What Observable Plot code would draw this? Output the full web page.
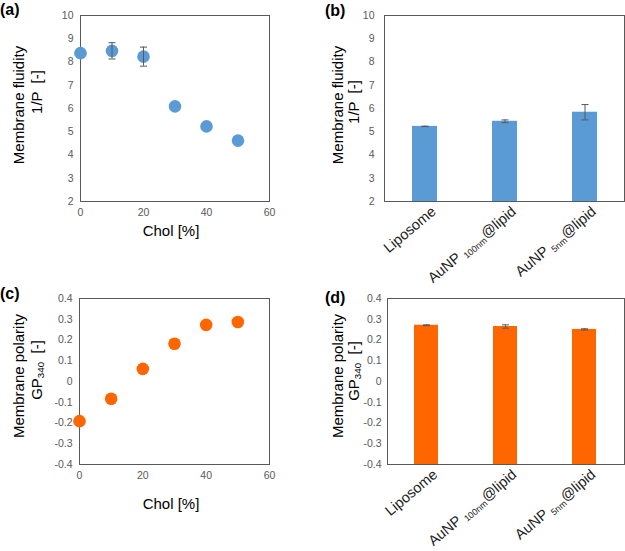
<!DOCTYPE html>
<html>
<head>
<meta charset="utf-8">
<script src="https://cdn.jsdelivr.net/npm/d3@7"></script>
<script src="https://cdn.jsdelivr.net/npm/@observablehq/plot@0.6"></script>
<style>
  html, body { margin: 0; padding: 0; background: #fff; }
  #wrap { position: relative; width: 625px; height: 551px; background: #fff; overflow: hidden;
          font-family: "Liberation Sans", Arial, sans-serif; color: #000; }
  .panel { position: absolute; }
  .lbl { position: absolute; font-weight: bold; font-size: 16px; line-height: 1; }
  .title { position: absolute; font-size: 15px; line-height: 1; white-space: pre; transform: translate(-50%, -50%); }
  .rot { transform: translate(-50%, -50%) rotate(-90deg); }
  sub { font-size: 0.65em; vertical-align: -0.25em; line-height: 0; }
</style>
</head>
<body>
<div id="wrap"></div>
<script>
// ---- data ----
const chol = [0, 10, 20, 30, 40, 50];
const fluidity = [8.38, 8.48, 8.23, 6.09, 5.23, 4.62];
const fluidityErr = [0, 0.35, 0.41, 0, 0, 0];
const polarity = [-0.191, -0.083, 0.061, 0.182, 0.273, 0.287];
const polarityErr = [0, 0, 0, 0, 0, 0];
const categories = ["Liposome", "AuNP100nm@lipid", "AuNP5nm@lipid"];
const barFluidity = [5.23, 5.45, 5.84];
const barFluidityErr = [0.01, 0.06, 0.33];
const barPolarity = [0.271, 0.265, 0.251];
const barPolarityErr = [0.002, 0.008, 0.003];
const cholTicks = [0, 20, 40, 60];
const fluidityTicks = [2, 3, 4, 5, 6, 7, 8, 9, 10];
const polarityTicks = [-0.4, -0.3, -0.2, -0.1, 0, 0.1, 0.2, 0.3, 0.4];

const BLUE = "#5B9BD5", ORANGE = "#FF6600", ERR = "#595959", FRAME = "#595959";
const FONT = '"Liberation Sans", Arial, sans-serif';

const cap = { draw(ctx) { ctx.moveTo(-3.5, 0); ctx.lineTo(3.5, 0); } };

const dataA = chol.map((c, i) => ({ chol: c, value: fluidity[i], err: fluidityErr[i] }));
const dataC = chol.map((c, i) => ({ chol: c, value: polarity[i], err: polarityErr[i] }));
const dataB = categories.map((c, i) => ({ cat: c, value: barFluidity[i], err: barFluidityErr[i] }));
const dataD = categories.map((c, i) => ({ cat: c, value: barPolarity[i], err: barPolarityErr[i] }));

const fmtPol = d => d === 0 ? "0" : d.toFixed(1);

function errMarks(data, xKey) {
  const e = data.filter(d => d.err > 0);
  return [
    Plot.ruleX(e, { x: xKey, y1: d => d.value - d.err, y2: d => d.value + d.err, stroke: ERR, strokeWidth: 1 }),
    Plot.dot(e, { x: xKey, y: d => d.value + d.err, symbol: cap, stroke: ERR, fill: "none", strokeWidth: 1 }),
    Plot.dot(e, { x: xKey, y: d => d.value - d.err, symbol: cap, stroke: ERR, fill: "none", strokeWidth: 1 })
  ];
}

function scatter(data, yDomain, yTicks, yFmt, color, opts) {
  return Plot.plot({
    width: opts.width, height: opts.height,
    marginLeft: opts.ml, marginRight: opts.mr, marginTop: opts.mt, marginBottom: opts.mb,
    style: { background: "transparent", fontFamily: FONT, fontSize: "10.5px", color: "#595959", overflow: "visible" },
    x: { domain: [cholTicks[0], cholTicks[cholTicks.length - 1]], ticks: cholTicks, tickSize: 0, tickPadding: 7, label: null },
    y: { domain: yDomain, ticks: yTicks, tickSize: 0, tickPadding: 7, tickFormat: yFmt, label: null },
    marks: [
      Plot.frame({ stroke: FRAME }),
      Plot.dot(data, { x: "chol", y: "value", r: 6.3, fill: color }),
      ...errMarks(data, "chol")
    ]
  });
}

function bars(data, yDomain, yTicks, yFmt, color, opts) {
  return Plot.plot({
    width: opts.width, height: opts.height,
    marginLeft: opts.ml, marginRight: opts.mr, marginTop: opts.mt, marginBottom: opts.mb,
    style: { background: "transparent", fontFamily: FONT, fontSize: "10.5px", color: "#595959", overflow: "visible" },
    x: { domain: categories, paddingInner: 0.69, paddingOuter: 0.345, label: null, axis: null },
    y: { domain: yDomain, ticks: yTicks, tickSize: 0, tickPadding: opts.yPad, tickFormat: yFmt, label: null },
    marks: [
      Plot.barY(data, { x: "cat", y1: yDomain[0], y2: "value", fill: color }),
      ...errMarks(data, "cat"),
      Plot.frame({ stroke: FRAME }),
      Plot.axisX({ tickSize: 0, tickRotate: -40, tickPadding: 4, fontSize: 14.5, fill: "#222", label: null, dx: 9, dy: 4 })
    ]
  });
}

function subscriptLabels(svg) {
  d3.select(svg).selectAll("text").each(function () {
    const m = (this.textContent || "").match(/^(AuNP)(\d+nm)(@lipid)$/);
    if (!m) return;
    const s = d3.select(this);
    s.text(null);
    s.append("tspan").text(m[1] + " ");
    s.append("tspan").attr("font-size", "9px").attr("dy", "3").text(m[2]);
    s.append("tspan").attr("dy", "-3").text(m[3]);
  });
}

const wrap = document.getElementById("wrap");
function place(el, left, top) {
  const d = document.createElement("div");
  d.className = "panel";
  d.style.left = left + "px"; d.style.top = top + "px";
  d.appendChild(el);
  wrap.appendChild(d);
}

const pA = scatter(dataA, [fluidityTicks[0], fluidityTicks[fluidityTicks.length - 1]], fluidityTicks, d => String(d), BLUE,
  { width: 310, height: 270, ml: 80, mr: 41, mt: 15, mb: 69 });
const pC = scatter(dataC, [polarityTicks[0], polarityTicks[polarityTicks.length - 1]], polarityTicks, fmtPol, ORANGE,
  { width: 310, height: 271, ml: 79, mr: 41, mt: 18, mb: 87 });
const pB = bars(dataB, [fluidityTicks[0], fluidityTicks[fluidityTicks.length - 1]], fluidityTicks, d => String(d), BLUE,
  { width: 315, height: 290, ml: 74, mr: 1, mt: 15, mb: 89, yPad: 10 });
const pD = bars(dataD, [polarityTicks[0], polarityTicks[polarityTicks.length - 1]], polarityTicks, fmtPol, ORANGE,
  { width: 315, height: 271, ml: 77, mr: 1, mt: 18, mb: 87, yPad: 6 });
subscriptLabels(pB); subscriptLabels(pD);

place(pC, 0, 280);
place(pD, 310, 280);
place(pA, 0, 0);
place(pB, 310, 0);

function addText(html, cx, cy, cls) {
  const d = document.createElement("div");
  d.className = cls;
  d.style.left = cx + "px"; d.style.top = cy + "px";
  d.innerHTML = html;
  wrap.appendChild(d);
}
// panel labels
addText("(a)", 0, 2, "lbl");
addText("(b)", 325, 3, "lbl");
addText("(c)", 0, 286, "lbl");
addText("(d)", 325, 290, "lbl");
// axis titles
addText("Membrane fluidity", 18, 105, "title rot");
addText("1/P  [-]", 36, 92, "title rot");
addText("Chol [%]", 171, 230, "title");
addText("Membrane fluidity", 337, 105, "title rot");
addText("1/P  [-]", 353, 102, "title rot");
addText("Membrane polarity", 18, 376, "title rot");
addText("GP<sub>340</sub>  [-]", 36, 370, "title rot");
addText("Chol [%]", 171, 503, "title");
addText("Membrane polarity", 337, 376, "title rot");
addText("GP<sub>340</sub>  [-]", 353, 371, "title rot");
</script>
</body>
</html>
